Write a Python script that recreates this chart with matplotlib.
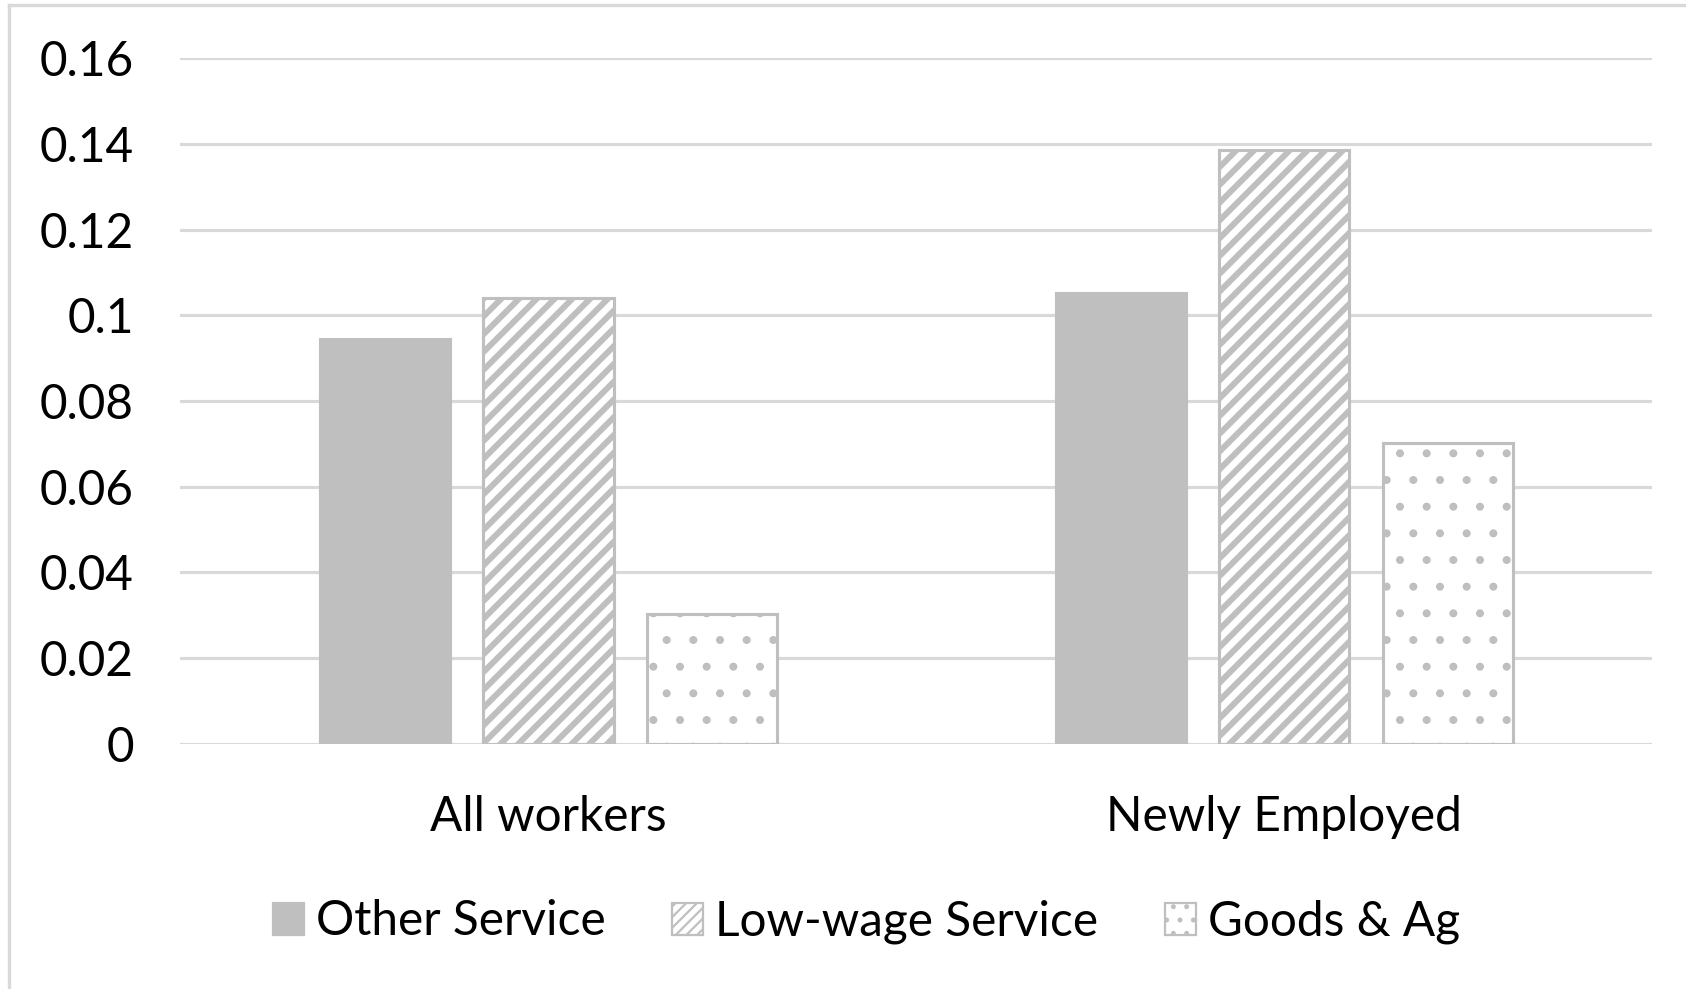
import matplotlib
matplotlib.use("Agg")
import matplotlib.pyplot as plt
from matplotlib.patches import Patch
from matplotlib.lines import Line2D
import numpy as np

categories = ["All workers", "Newly Employed"]
series_names = ["Other Service", "Low-wage Service", "Goods & Ag"]
other_service = [0.0945, 0.1053]
low_wage_service = [0.1041, 0.1387]
goods_ag = [0.0303, 0.0702]
yticks = [0, 0.02, 0.04, 0.06, 0.08, 0.1, 0.12, 0.14, 0.16]
ytick_labels = ["0", "0.02", "0.04", "0.06", "0.08", "0.1", "0.12", "0.14", "0.16"]

DPI = 160
plt.rcParams['font.family'] = ['Lato', 'DejaVu Sans']

fig = plt.figure(figsize=(1686 / DPI, 989 / DPI), dpi=DPI)
ax = fig.add_axes([0.107, 0.248, 0.873, 0.693])

gray = "#BFBFBF"
grid = "#D9D9D9"
x = np.arange(len(categories))
width = 0.177
step = 0.222

ax.bar(x - step, other_service, width, color=gray, edgecolor=gray, linewidth=1.4, zorder=3)
with plt.rc_context({'hatch.linewidth': 2.7}):
    ax.bar(x, low_wage_service, width, color="white", edgecolor=gray, hatch="///", linewidth=1.4, zorder=3)
with plt.rc_context({'hatch.linewidth': 1.2}):
    ax.bar(x + step, goods_ag, width, color="white", edgecolor=gray, hatch=".", linewidth=1.4, zorder=3)

ax.set_xlim(-0.5, 1.5)
ax.set_ylim(0, 0.16)
ax.set_yticks(yticks)
ax.set_yticklabels(ytick_labels)
ax.set_xticks(x)
ax.set_xticklabels(categories)
ax.tick_params(axis='y', length=0, pad=21, labelsize=21.5)
ax.tick_params(axis='x', length=0, pad=23, labelsize=21.5)
ax.yaxis.grid(True, color=grid, linewidth=1.4, zorder=0)
ax.set_axisbelow(True)
for s in ax.spines.values():
    s.set_visible(False)

with plt.rc_context({'hatch.linewidth': 1.8}):
    h2 = Patch(facecolor="white", edgecolor=gray, hatch="/////", linewidth=1.0)
with plt.rc_context({'hatch.linewidth': 0.8}):
    h3 = Patch(facecolor="white", edgecolor=gray, hatch="..", linewidth=1.0)
handles = [Patch(facecolor=gray, edgecolor=gray, linewidth=1.0), h2, h3]
fig.legend(handles, series_names, loc="center", bbox_to_anchor=(0.514, 0.068),
           ncol=3, frameon=False, fontsize=21.5, handlelength=0.65, handleheight=0.65,
           handletextpad=0.25, columnspacing=1.4)

# document frame lines
fig.add_artist(Line2D([0.0055, 0.0055], [0.0, 0.995], transform=fig.transFigure, color=grid, linewidth=1.5))
fig.add_artist(Line2D([0.0055, 1.0], [0.995, 0.995], transform=fig.transFigure, color=grid, linewidth=1.5))

fig.savefig("out.png", dpi=DPI)
